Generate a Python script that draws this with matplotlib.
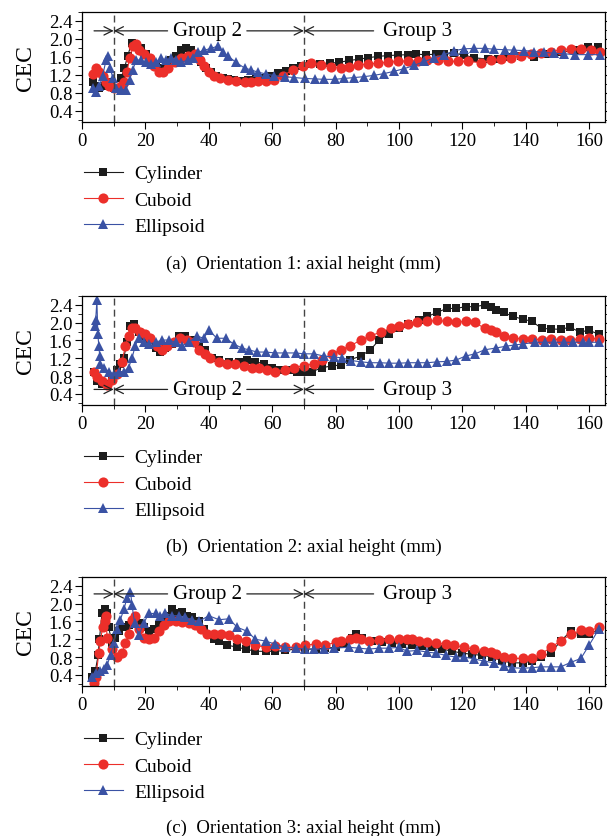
import matplotlib
matplotlib.use("Agg")
import matplotlib.pyplot as plt
from matplotlib.ticker import MultipleLocator

plt.rcParams['font.family'] = ['Liberation Serif', 'DejaVu Serif']

# ---- Orientation 1 ----
c1_x = [3.4, 4.1, 5.5, 7.1, 8.1, 9.2, 10.2, 11.3, 12.3, 13.4, 14.4, 15.7, 17.1, 18.6, 20.2, 21.8, 23.4, 24.9, 26.5, 28.1,
        29.7, 31.3, 32.8, 34.4, 36.0, 37.6, 39.2, 40.7, 42.3, 44.4, 46.0, 48.1, 50.2, 52.3, 54.9, 57.0, 59.7, 61.8, 64.4, 66.5,
        69.2, 71.8, 75.0, 78.1, 81.2, 84.3, 87.5, 90.1, 93.3, 96.4, 99.6, 102.7, 105.4, 108.5, 111.7, 114.3, 117.5, 120.6, 123.8, 128.0,
        131.2, 134.3, 138.5, 142.7, 147.0, 151.2, 155.4, 159.6, 162.7]
c1_y = [1.04, 0.95, 0.91, 0.95, 1.04, 0.95, 0.91, 0.91, 1.13, 1.35, 1.62, 1.92, 1.83, 1.79, 1.66, 1.53, 1.40, 1.35, 1.44, 1.53,
        1.62, 1.75, 1.79, 1.75, 1.62, 1.48, 1.35, 1.26, 1.18, 1.13, 1.11, 1.09, 1.07, 1.09, 1.11, 1.13, 1.18, 1.24, 1.28, 1.35,
        1.40, 1.44, 1.44, 1.46, 1.48, 1.52, 1.55, 1.58, 1.61, 1.63, 1.64, 1.65, 1.66, 1.65, 1.66, 1.66, 1.68, 1.64, 1.58, 1.55,
        1.56, 1.60, 1.63, 1.60, 1.66, 1.70, 1.75, 1.82, 1.82]
r1_x = [3.4, 4.4, 5.5, 6.5, 7.6, 8.6, 10.0, 11.3, 12.3, 13.4, 14.2, 15.0, 16.0, 17.1, 18.1, 19.7, 21.3, 22.8, 24.4, 25.5,
        27.0, 29.2, 31.3, 33.4, 35.5, 37.1, 38.6, 40.2, 41.8, 43.4, 46.0, 48.6, 51.3, 53.4, 55.5, 58.1, 60.7, 63.4, 66.5, 69.7,
        72.3, 75.5, 78.6, 81.7, 84.3, 87.0, 90.1, 93.3, 96.4, 99.6, 102.7, 105.9, 109.0, 112.2, 115.4, 118.5, 121.7, 125.9, 129.1, 132.2,
        135.4, 138.5, 141.7, 144.8, 148.0, 151.2, 154.3, 157.5, 160.6, 163.3]
r1_y = [1.22, 1.35, 1.26, 1.18, 1.04, 0.95, 0.91, 0.91, 0.95, 1.04, 1.26, 1.57, 1.84, 1.88, 1.75, 1.66, 1.57, 1.40, 1.26, 1.26,
        1.35, 1.48, 1.57, 1.62, 1.66, 1.53, 1.40, 1.26, 1.18, 1.13, 1.09, 1.07, 1.04, 1.04, 1.06, 1.07, 1.09, 1.18, 1.31, 1.40,
        1.46, 1.42, 1.38, 1.36, 1.38, 1.42, 1.44, 1.46, 1.48, 1.50, 1.51, 1.51, 1.52, 1.52, 1.50, 1.50, 1.50, 1.47, 1.52, 1.55,
        1.58, 1.61, 1.66, 1.68, 1.72, 1.76, 1.78, 1.78, 1.76, 1.70]
b1_x = [3.4, 4.4, 5.5, 6.5, 7.6, 8.1, 8.9, 9.7, 10.7, 12.3, 13.9, 15.0, 16.0, 17.1, 18.6, 20.2, 21.8, 23.4, 24.9, 26.5,
        28.1, 29.7, 31.3, 33.4, 34.9, 36.5, 38.6, 40.7, 42.8, 44.4, 46.0, 48.6, 51.3, 53.4, 55.5, 58.1, 60.7, 63.9, 67.0, 70.2,
        73.4, 76.5, 79.7, 82.7, 85.9, 89.0, 92.2, 95.4, 98.5, 101.7, 104.8, 108.0, 111.2, 114.3, 117.5, 120.6, 123.8, 127.0, 130.1, 133.3,
        136.4, 139.6, 142.7, 145.9, 149.0, 152.2, 155.4, 159.6, 163.3]
b1_y = [0.91, 0.82, 0.95, 1.18, 1.53, 1.62, 1.35, 1.13, 0.91, 0.87, 0.87, 1.09, 1.31, 1.53, 1.53, 1.48, 1.44, 1.48, 1.57, 1.53,
        1.57, 1.53, 1.48, 1.53, 1.57, 1.70, 1.75, 1.79, 1.84, 1.70, 1.62, 1.48, 1.35, 1.31, 1.26, 1.22, 1.18, 1.16, 1.14, 1.12,
        1.11, 1.10, 1.10, 1.12, 1.14, 1.16, 1.19, 1.23, 1.28, 1.34, 1.41, 1.50, 1.58, 1.65, 1.74, 1.78, 1.79, 1.79, 1.77, 1.76,
        1.75, 1.74, 1.72, 1.70, 1.68, 1.67, 1.65, 1.65, 1.65]

# ---- Orientation 2 ----
c2_x = [3.7, 4.7, 6.3, 7.9, 9.5, 11.0, 12.1, 13.2, 14.2, 15.3, 16.3, 17.9, 19.5, 21.0, 23.2, 24.7, 26.3, 28.4, 30.5, 32.6,
        34.7, 36.8, 38.9, 41.0, 43.2, 46.3, 49.5, 52.0, 54.7, 57.4, 60.0, 62.6, 65.3, 67.9, 70.0, 72.6, 75.8, 79.0, 81.8, 84.7,
        87.9, 91.0, 93.7, 96.8, 100.0, 103.0, 106.3, 109.0, 112.0, 115.0, 118.0, 121.0, 124.0, 127.0, 129.0, 130.5, 133.0, 136.0, 139.0, 142.0,
        145.0, 148.0, 151.0, 154.0, 157.0, 160.0, 163.0]
c2_y = [0.90, 0.68, 0.63, 0.63, 0.72, 0.94, 1.08, 1.21, 1.57, 1.92, 1.96, 1.79, 1.70, 1.61, 1.43, 1.34, 1.43, 1.52, 1.70, 1.70,
        1.61, 1.48, 1.39, 1.21, 1.17, 1.12, 1.12, 1.17, 1.12, 1.08, 0.99, 0.94, 0.94, 0.90, 0.90, 0.90, 0.99, 1.03, 1.05, 1.17,
        1.25, 1.39, 1.61, 1.74, 1.87, 1.96, 2.05, 2.14, 2.23, 2.32, 2.32, 2.36, 2.36, 2.40, 2.36, 2.29, 2.23, 2.14, 2.08, 2.03,
        1.87, 1.86, 1.85, 1.90, 1.79, 1.83, 1.74]
r2_x = [3.7, 4.7, 6.3, 7.9, 9.5, 11.0, 12.6, 13.7, 14.7, 15.8, 16.8, 18.4, 20.0, 21.6, 23.7, 25.3, 26.8, 29.0, 31.0, 33.2,
        35.3, 36.8, 38.9, 40.5, 43.2, 45.8, 48.4, 51.0, 53.7, 55.8, 58.4, 61.0, 64.2, 66.8, 70.0, 73.2, 75.8, 79.0, 81.6, 84.7,
        87.9, 91.0, 94.2, 97.4, 100.0, 103.0, 105.8, 109.0, 112.0, 115.0, 118.0, 121.0, 124.0, 127.0, 129.0, 130.5, 133.0, 136.0, 139.0, 142.0,
        145.0, 148.0, 151.0, 154.0, 157.0, 160.0, 163.0]
r2_y = [0.90, 0.77, 0.68, 0.61, 0.72, 0.85, 1.12, 1.48, 1.70, 1.88, 1.88, 1.79, 1.74, 1.65, 1.48, 1.39, 1.48, 1.56, 1.65, 1.61,
        1.56, 1.39, 1.30, 1.21, 1.12, 1.08, 1.08, 1.03, 0.99, 0.99, 0.94, 0.90, 0.94, 0.99, 1.03, 1.08, 1.17, 1.30, 1.39, 1.48,
        1.61, 1.70, 1.79, 1.87, 1.92, 1.96, 2.01, 2.03, 2.05, 2.03, 2.01, 2.03, 2.01, 1.87, 1.83, 1.79, 1.70, 1.65, 1.64, 1.64,
        1.61, 1.64, 1.61, 1.61, 1.64, 1.65, 1.64]
b2_x = [4.0, 4.3, 4.7, 5.0, 5.3, 5.6, 5.8, 6.8, 8.4, 10.0, 11.6, 13.2, 14.7, 15.8, 16.8, 17.9, 19.5, 21.0, 23.2, 25.3,
        27.4, 29.5, 31.6, 33.7, 36.3, 38.4, 40.0, 42.6, 45.3, 47.9, 50.5, 52.6, 55.3, 57.9, 61.0, 64.2, 67.4, 70.0, 73.2, 76.3,
        79.5, 82.0, 85.0, 88.0, 91.0, 94.0, 97.0, 100.0, 103.0, 106.0, 109.0, 112.0, 115.0, 118.0, 121.0, 124.0, 127.0, 130.5, 133.7, 136.5,
        139.0, 143.0, 146.0, 149.0, 152.0, 155.0, 158.0, 160.0, 163.0]
b2_y = [1.92, 2.05, 2.50, 1.75, 1.48, 1.25, 1.08, 0.99, 0.90, 0.85, 0.90, 0.90, 0.99, 1.21, 1.48, 1.65, 1.56, 1.52, 1.56, 1.61,
        1.61, 1.56, 1.48, 1.56, 1.70, 1.65, 1.83, 1.65, 1.65, 1.52, 1.43, 1.39, 1.34, 1.34, 1.32, 1.32, 1.32, 1.30, 1.30, 1.25,
        1.23, 1.21, 1.15, 1.12, 1.10, 1.10, 1.09, 1.09, 1.10, 1.10, 1.10, 1.12, 1.13, 1.16, 1.25, 1.30, 1.39, 1.43, 1.47, 1.50,
        1.52, 1.56, 1.56, 1.56, 1.56, 1.56, 1.56, 1.56, 1.56]

# ---- Orientation 3 ----
c3_x = [3.2, 4.2, 5.1, 5.5, 6.3, 7.2, 7.9, 8.4, 9.5, 10.5, 11.6, 12.6, 13.7, 14.7, 16.3, 17.9, 19.5, 21.0, 22.6, 24.2,
        25.8, 27.4, 28.4, 30.0, 31.6, 33.2, 34.7, 36.8, 38.4, 40.0, 41.6, 43.2, 45.8, 49.0, 51.6, 54.7, 57.9, 61.0, 64.2, 67.4,
        70.5, 73.7, 76.8, 80.0, 82.5, 85.3, 86.3, 88.4, 91.6, 94.7, 97.9, 101.0, 104.2, 107.4, 110.5, 113.7, 116.8, 120.0, 123.0, 126.3,
        129.5, 132.6, 135.8, 139.0, 142.0, 144.7, 147.9, 151.0, 154.2, 157.4, 160.0, 163.0]
c3_y = [0.36, 0.49, 0.84, 1.20, 1.78, 1.87, 1.78, 1.47, 1.11, 1.24, 1.38, 1.47, 1.47, 1.51, 1.60, 1.56, 1.47, 1.38, 1.42, 1.51,
        1.60, 1.73, 1.87, 1.78, 1.82, 1.73, 1.69, 1.60, 1.42, 1.29, 1.20, 1.16, 1.07, 1.02, 0.98, 0.93, 0.93, 0.93, 0.95, 0.98,
        0.98, 0.98, 1.00, 1.02, 1.10, 1.24, 1.31, 1.22, 1.16, 1.13, 1.11, 1.09, 1.07, 1.04, 1.02, 0.98, 0.93, 0.89, 0.86, 0.84,
        0.80, 0.71, 0.67, 0.67, 0.71, 0.80, 0.89, 1.16, 1.38, 1.31, 1.31, 1.42]
r3_x = [3.7, 4.4, 5.3, 5.8, 6.5, 7.2, 7.6, 7.9, 9.5, 11.0, 12.6, 13.7, 14.7, 15.8, 16.8, 17.9, 19.5, 21.0, 22.6, 24.2,
        25.8, 27.4, 29.5, 31.6, 33.7, 35.8, 37.4, 39.5, 41.6, 43.7, 46.3, 49.0, 51.6, 54.7, 57.9, 61.0, 64.2, 67.4, 70.5, 73.7,
        76.8, 80.0, 81.6, 84.7, 86.3, 87.9, 90.5, 93.7, 96.8, 100.0, 102.6, 104.2, 106.3, 109.0, 111.6, 114.7, 117.4, 120.5, 123.7, 126.8,
        129.0, 130.5, 133.2, 135.8, 139.0, 142.0, 144.7, 147.9, 151.0, 154.2, 157.4, 160.0, 163.0]
r3_y = [0.22, 0.36, 0.89, 1.16, 1.47, 1.60, 1.73, 1.24, 0.98, 0.80, 0.89, 1.11, 1.33, 1.64, 1.73, 1.42, 1.24, 1.20, 1.24, 1.38,
        1.51, 1.60, 1.60, 1.58, 1.56, 1.51, 1.42, 1.33, 1.33, 1.31, 1.29, 1.20, 1.16, 1.07, 1.02, 1.04, 1.02, 1.02, 1.07, 1.09,
        1.07, 1.13, 1.16, 1.20, 1.24, 1.20, 1.16, 1.18, 1.20, 1.20, 1.20, 1.20, 1.16, 1.13, 1.11, 1.09, 1.07, 1.02, 0.98, 0.93,
        0.91, 0.86, 0.80, 0.77, 0.77, 0.77, 0.86, 1.02, 1.16, 1.31, 1.40, 1.38, 1.47]
b3_x = [3.2, 4.4, 5.8, 6.8, 7.9, 9.0, 10.0, 11.0, 12.1, 13.2, 14.2, 15.3, 15.8, 16.6, 17.9, 19.5, 21.0, 23.2, 24.7, 26.3,
        28.4, 30.5, 32.6, 34.7, 36.8, 40.0, 43.2, 46.3, 49.0, 52.1, 54.7, 57.9, 61.0, 64.2, 67.4, 70.5, 73.2, 76.3, 79.5, 84.2,
        87.4, 90.5, 93.7, 96.8, 100.0, 102.6, 105.8, 109.0, 111.6, 114.7, 117.9, 120.5, 123.7, 126.8, 130.0, 133.2, 135.8, 139.0, 142.0, 144.7,
        147.9, 151.0, 154.2, 157.4, 160.0, 163.0]
b3_y = [0.36, 0.44, 0.49, 0.53, 0.62, 0.84, 1.11, 1.42, 1.64, 1.87, 2.13, 2.27, 1.96, 1.56, 1.29, 1.56, 1.78, 1.78, 1.73, 1.78,
        1.73, 1.73, 1.69, 1.64, 1.60, 1.73, 1.64, 1.66, 1.47, 1.38, 1.20, 1.16, 1.09, 1.02, 1.00, 0.98, 0.98, 0.98, 1.00, 1.02,
        1.00, 0.98, 1.00, 1.00, 1.02, 0.93, 0.95, 0.91, 0.89, 0.84, 0.80, 0.80, 0.76, 0.71, 0.67, 0.60, 0.56, 0.55, 0.56, 0.58,
        0.58, 0.58, 0.68, 0.77, 1.07, 1.42]

labels = ["Cylinder", "Cuboid", "Ellipsoid"]
captions = ["(a)  Orientation 1: axial height (mm)",
            "(b)  Orientation 2: axial height (mm)",
            "(c)  Orientation 3: axial height (mm)"]
group_y = [2.18, 0.50, 2.22]
boundaries = [10, 70]

BLACK = "#1c1c1c"
RED = "#ec2f2a"
BLUE = "#3a52a4"

W, H = 607, 837
fig = plt.figure(figsize=(W / 100, H / 100), dpi=100)

# axes top/bottom in pixels, legend top and caption centre in pixels
panel_px = [(13, 123), (297, 406), (578, 687)]
legend_px = [156, 440, 722]
caption_px = [264, 547, 828]

data = [
    [(c1_x, c1_y), (r1_x, r1_y), (b1_x, b1_y)],
    [(c2_x, c2_y), (r2_x, r2_y), (b2_x, b2_y)],
    [(c3_x, c3_y), (r3_x, r3_y), (b3_x, b3_y)],
]
styles = [dict(color=BLACK, marker="s", ms=6.3),
          dict(color=RED, marker="o", ms=7.3),
          dict(color=BLUE, marker="^", ms=7.5)]

for i in range(3):
    top, bot = panel_px[i]
    ax = fig.add_axes([82 / W, 1 - bot / H, 523 / W, (bot - top) / H])
    for (x, y), st, lab in zip(data[i], styles, labels):
        ax.plot(x, y, lw=0.8, mew=0, label=lab, **st)

    ax.set_xlim(0, 165)
    ax.set_ylim(0.15, 2.6)
    ax.xaxis.set_major_locator(MultipleLocator(20))
    ax.xaxis.set_minor_locator(MultipleLocator(10))
    ax.yaxis.set_minor_locator(MultipleLocator(0.2))
    ax.set_yticks([0.4, 0.8, 1.2, 1.6, 2.0, 2.4])
    ax.tick_params(which="both", direction="out", right=True, labelsize=13.5, pad=2)
    ax.tick_params(which="major", length=5)
    ax.tick_params(which="minor", length=3)
    ax.set_ylabel("CEC", fontsize=17, labelpad=9)
    for s in ax.spines.values():
        s.set_linewidth(0.9)

    for b in boundaries:
        ax.axvline(b, color="#444444", lw=1.0, dashes=(5, 3))

    # group annotation
    gy = group_y[i]
    arrow = dict(arrowstyle="->", lw=0.9, color="#222222", shrinkA=0, shrinkB=0,
                 mutation_scale=15)
    ax.annotate("", xy=(10, gy), xytext=(3.8, gy), arrowprops=arrow)
    ax.annotate("", xy=(10, gy), xytext=(27, gy), arrowprops=arrow)
    ax.annotate("", xy=(70, gy), xytext=(52, gy), arrowprops=arrow)
    ax.annotate("", xy=(70, gy), xytext=(92, gy), arrowprops=arrow)
    ax.text(39.5, gy, "Group 2", ha="center", va="center", fontsize=15)
    ax.text(106, gy, "Group 3", ha="center", va="center", fontsize=15)

    ax.legend(loc="upper left", bbox_to_anchor=(74 / W, 1 - legend_px[i] / H),
              bbox_transform=fig.transFigure, frameon=False, fontsize=14,
              handlelength=2.0, handletextpad=0.6, labelspacing=0.45, borderpad=0)

    fig.text(0.5, 1 - caption_px[i] / H, captions[i], ha="center", va="center", fontsize=13.5)

fig.savefig("out.png", dpi=100)
